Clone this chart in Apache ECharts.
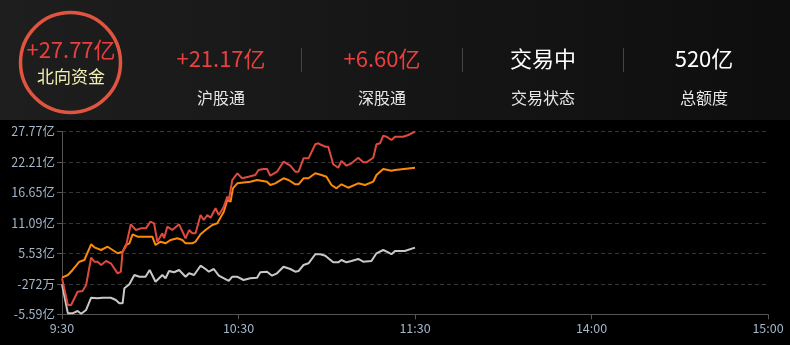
<!DOCTYPE html>
<html><head><meta charset="utf-8">
<script src="https://cdn.jsdelivr.net/npm/echarts@6/dist/echarts.min.js"></script>
<style>html,body{margin:0;padding:0;background:#000;}#c{width:790px;height:345px;}</style>
</head><body><div id="c"></div>
<script>
// x: minutes since 9:30 on the trading clock (11:30 and 13:00 share index 120)
const timeLabels = ['9:30', '10:30', '11:30', '14:00', '15:00'];
const yTickLabels = ['-5.59亿', '-272万', '5.53亿', '11.09亿', '16.65亿', '22.21亿', '27.77亿'];
const yMin = -5.5872, yStep = 5.56;

// 北向资金 (亿) [minute, value]
const northFlow = [[0,1.0],[2,-3.89],[3.1,-3.89],[5.3,-1.46],[7,-1.33],[8.2,-0.23],[9.9,4.75],[11,4.02],[12.1,4.02],[13.3,3.42],[15,4.15],[16.6,3.73],[18.9,1.90],[20,2.20],[20.6,5.85],[21.7,6.76],[23.4,10.85],[25.1,9.81],[26.8,10.12],[28.5,10.12],[30.1,11.33],[31.3,11.04],[32.4,7.68],[34.1,9.21],[34.7,8.30],[35.8,10.42],[37.5,9.81],[39.8,10.85],[41.5,8.90],[42,8.30],[43.2,9.81],[44.3,9.21],[45.4,9.21],[47.1,12.55],[48.2,11.64],[49.4,12.55],[50.5,12.06],[52.2,13.78],[53.3,12.55],[55,14.07],[56.2,15.90],[56.7,15.29],[57.9,18.95],[59.6,20.17],[60,20.28],[61.2,19.26],[63.4,19.55],[65.7,19.86],[66.8,20.77],[68.5,20.96],[69.7,20.96],[70.8,19.73],[73.1,20.46],[75.3,22.29],[77.6,21.56],[79.3,20.46],[80.4,20.46],[82.1,22.91],[83.8,22.91],[86.1,25.47],[87.2,25.65],[88.2,25.34],[89.6,25.03],[90.5,25.03],[92.2,21.82],[93.9,21.19],[95,22.42],[96.7,21.56],[98.4,22.00],[100.7,23.02],[102.4,22.18],[103.5,22.18],[105.8,23.02],[106.9,25.47],[108.1,25.65],[109.2,27.04],[110.3,26.86],[112,26.25],[113.2,26.86],[116,26.86],[117.7,27.17],[120,27.77]];
// 沪股通 (亿)
const hgtFlow = [[0,1.10],[2,1.59],[3.6,2.51],[5.9,4.02],[7.6,4.33],[9.9,7.20],[11,6.65],[13.3,6.16],[15.5,6.76],[17.2,6.16],[18.9,5.56],[20.6,5.85],[21.7,7.07],[22.9,7.38],[24,9.03],[25.7,8.59],[29.1,8.59],[30.7,8.59],[31.8,7.07],[33.5,7.68],[35.2,7.38],[36.9,7.99],[39.2,8.30],[40.9,7.99],[42,7.38],[44.3,7.38],[45.4,7.68],[47.1,9.03],[48.8,9.81],[51.1,10.73],[52.8,11.04],[55,13.16],[56.2,15.29],[57.3,14.98],[58.1,17.43],[59.6,18.34],[60,18.64],[64,18.64],[66.3,18.95],[69.7,18.64],[70.8,18.03],[72.5,18.34],[75.3,19.26],[77,18.95],[79.3,18.16],[80.4,18.16],[82.1,19.26],[83.8,19.26],[86.1,20.17],[88.2,19.86],[89.9,19.55],[91.6,18.03],[93.3,17.43],[95,18.16],[97.3,17.54],[100.7,18.34],[103,18.03],[105.8,18.64],[106.9,19.86],[109.2,20.96],[112,20.65],[113.2,20.77],[120,21.17]];
// 深股通 (亿)
const sgtFlow = [[0,-0.11],[2,-5.41],[3.6,-5.41],[5.3,-4.99],[6.5,-5.50],[8.2,-4.80],[9.9,-2.56],[12.1,-2.67],[13.8,-2.56],[16.6,-2.56],[18.3,-2.97],[19.5,-3.58],[20.6,-3.58],[21.2,-0.84],[22.9,-0.11],[24.6,1.59],[26.3,1.28],[28.4,1.28],[29.8,2.51],[31.8,0.37],[34.1,1.59],[35.2,0.99],[36.4,2.32],[38.1,2.09],[39.8,2.51],[42,1.28],[43.2,1.90],[44.9,1.59],[47.1,3.29],[48.8,2.69],[49.9,2.20],[51.6,2.69],[53.3,1.47],[56.7,0.50],[57.9,1.28],[59.5,1.28],[61.7,0.68],[64,0.99],[66.3,1.10],[67.4,2.09],[69.7,2.20],[71.4,1.47],[73.1,1.90],[75.3,3.11],[77.6,2.69],[79.3,2.20],[80.4,2.32],[82.1,3.42],[83.8,3.73],[86.1,5.38],[87.8,5.38],[89.5,5.12],[92.2,3.91],[93.9,3.91],[95,4.33],[96.7,3.91],[98.4,4.15],[100.7,4.52],[102.4,4.02],[105.2,4.15],[106.9,5.56],[109.2,6.16],[110.9,5.74],[112,5.38],[113.2,5.98],[116.5,5.98],[120,6.60]];

// header texts
const headValues = ['+21.17亿', '+6.60亿', '交易中', '520亿'];
const headLabels = ['沪股通', '深股通', '交易状态', '总额度'];
const headColors = ['#e8403f', '#e8403f', '#ffffff', '#ffffff'];

const shift = d => d.map(p => [p[0], p[1] - yMin]);
const FONT = '"Noto Sans CJK SC","Noto Sans",sans-serif';

const chart = echarts.init(document.getElementById('c'));
const graphics = [
  { type: 'rect', shape: { x: 0, y: 0, width: 790, height: 120 }, silent: true,
    style: { fill: new echarts.graphic.LinearGradient(0, 0, 1, 0, [{ offset: 0, color: '#1e1e1e' }, { offset: 1, color: '#0e0e0e' }]) } },
  { type: 'circle', shape: { cx: 70.5, cy: 62.5, r: 50 }, silent: true,
    style: { fill: 'none', stroke: '#e0553f', lineWidth: 3.5 } },
  { type: 'text', x: 71, y: 50, silent: true,
    style: { text: '+27.77亿', fill: '#e8403f', font: '22px ' + FONT, align: 'center', verticalAlign: 'middle' } },
  { type: 'text', x: 71, y: 77, silent: true,
    style: { text: '北向资金', fill: '#f3efb2', font: '17px ' + FONT, align: 'center', verticalAlign: 'middle' } }
];
for (let k = 0; k < 4; k++) {
  const cx = 221 + k * 161;
  graphics.push({ type: 'text', x: cx, y: 59, silent: true,
    style: { text: headValues[k], fill: headColors[k], font: '22px ' + FONT, align: 'center', verticalAlign: 'middle' } });
  graphics.push({ type: 'text', x: cx, y: 98, silent: true,
    style: { text: headLabels[k], fill: '#e6e6e6', font: '16px ' + FONT, align: 'center', verticalAlign: 'middle' } });
  if (k < 3) graphics.push({ type: 'line', silent: true,
    shape: { x1: cx + 80.5, y1: 48, x2: cx + 80.5, y2: 72 }, style: { stroke: '#444', lineWidth: 1 } });
}

const lineSeries = (name, data, color) => ({
  name, type: 'line', data: shift(data), showSymbol: false, symbol: 'none',
  lineStyle: { color, width: 2 }, itemStyle: { color }, animation: false
});

chart.setOption({
  backgroundColor: '#000',
  animation: false,
  graphic: graphics,
  grid: { left: 62, right: 22, top: 131.7, bottom: 30.7 },
  xAxis: {
    type: 'value', min: 0, max: 240, interval: 60,
    axisLine: { lineStyle: { color: '#555' } },
    axisTick: { show: true, length: 5, lineStyle: { color: '#555' } },
    splitLine: { show: false },
    axisLabel: { color: '#a3b5c8', fontSize: 12.5, fontFamily: FONT, margin: 8,
      formatter: v => timeLabels[Math.round(v / 60)] }
  },
  yAxis: {
    type: 'value', min: 0, max: yStep * 6, interval: yStep,
    axisLine: { show: true, lineStyle: { color: '#555' } },
    axisTick: { show: true, length: 5, lineStyle: { color: '#555' } },
    splitLine: { lineStyle: { color: '#363636', type: [4, 3] } },
    axisLabel: { color: '#a3b5c8', fontSize: 12.5, fontFamily: FONT, margin: 7,
      formatter: v => yTickLabels[Math.round(v / yStep)] }
  },
  series: [
    lineSeries('深股通', sgtFlow, '#c8c8c8'),
    lineSeries('沪股通', hgtFlow, '#fb8a0a'),
    lineSeries('北向资金', northFlow, '#df4a3e')
  ]
});
</script></body></html>
